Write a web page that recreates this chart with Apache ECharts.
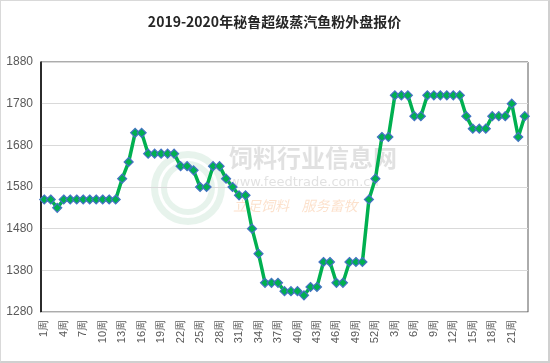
<!DOCTYPE html>
<html><head><meta charset="utf-8">
<script src="https://cdn.jsdelivr.net/npm/echarts@6/dist/echarts.min.js"></script>
<style>
html,body{margin:0;padding:0;background:#fff;}
#c{width:550px;height:363px;box-sizing:border-box;border:1px solid #d9d9d9;border-right:2px solid #d0d0d0;border-bottom:2px solid #d0d0d0;}
</style></head>
<body><div id="c"></div>
<script>
const title = '2019-2020年秘鲁超级蒸汽鱼粉外盘报价';
const weeks2019 = [];
for (let w = 1; w <= 52; w++) weeks2019.push(w + '周');
const weeks2020 = [];
for (let w = 1; w <= 23; w++) weeks2020.push(w + '周');
const categories = weeks2019.concat(weeks2020);
const prices2019 = [1550,1550,1530,1550,1550,1550,1550,1550,1550,1550,1550,1550,
  1600,1640,1710,1710,1660,1660,1660,1660,1660,1630,1630,1620,1580,1580,1630,1630,
  1600,1580,1560,1560,1480,1420,1350,1350,1350,1330,1330,1330,1320,1340,1340,1400,
  1400,1350,1350,1400,1400,1400,1550,1600];
const prices2020 = [1700,1700,1800,1800,1800,1750,1750,1800,1800,1800,1800,1800,1800,
  1750,1720,1720,1720,1750,1750,1750,1780,1700,1750];
const prices = prices2019.concat(prices2020);
const yTicks = {min: 1280, max: 1880, step: 100};

const chart = echarts.init(document.getElementById('c'), null, {renderer: 'canvas'});
chart.setOption({
  animation: false,
  title: {
    text: title, left: 'center', top: 9,
    textStyle: {fontFamily: 'Noto Sans CJK SC', fontSize: 14, fontWeight: 'bold', color: '#262626'}
  },
  grid: {left: 40, right: 20, top: 61, bottom: 49, show: true, borderColor: '#595959', borderWidth: 1},
  graphic: [
    {type: 'text', left: 228, top: 145, z: 0, style: {text: '饲料行业信息网', fontFamily: 'Noto Sans CJK SC', fontSize: 24, fontWeight: 'bold', fill: 'rgba(170,170,170,0.35)'}},
    {type: 'text', left: 228, top: 175, z: 0, style: {text: 'www.feedtrade.com.cn', fontFamily: 'DejaVu Sans', fontSize: 13, fill: 'rgba(170,170,170,0.35)'}},
    {type: 'text', left: 232, top: 198, z: 0, style: {text: '立足饲料    服务畜牧', fontFamily: 'Noto Sans CJK SC', fontSize: 14, fontStyle: 'italic', fill: 'rgba(245,170,110,0.35)'}},
    {type: 'ring', left: 150, top: 150, z: 0, shape: {cx: 37, cy: 37, r: 37, r0: 30}, style: {fill: 'rgba(120,190,150,0.18)'}},
    {type: 'ring', left: 160, top: 160, z: 0, shape: {cx: 27, cy: 27, r: 27, r0: 21}, style: {fill: 'rgba(120,190,150,0.18)'}}
  ],
  xAxis: {
    type: 'category', data: categories, boundaryGap: true,
    axisLine: {show: true, lineStyle: {color: '#d9d9d9', width: 1}},
    axisTick: {show: false},
    axisLabel: {interval: 2, rotate: 90, fontFamily: 'Liberation Sans', fontSize: 11, color: '#595959', margin: 8}
  },
  yAxis: {
    type: 'value', min: yTicks.min, max: yTicks.max, interval: yTicks.step,
    axisLine: {show: true, lineStyle: {color: '#000', width: 1.5}},
    axisTick: {show: false},
    axisLabel: {fontFamily: 'Liberation Sans', fontSize: 12, color: '#595959', margin: 8, formatter: function (v) { return String(v); }},
    splitLine: {show: true, lineStyle: {color: '#d9d9d9', width: 1}}
  },
  series: [{
    type: 'line', data: prices,
    symbol: 'diamond', symbolSize: 9, showAllSymbol: true,
    lineStyle: {color: '#00B050', width: 3.5},
    itemStyle: {color: '#00B050', borderColor: '#4472C4', borderWidth: 1.2}
  }]
});
</script></body></html>
